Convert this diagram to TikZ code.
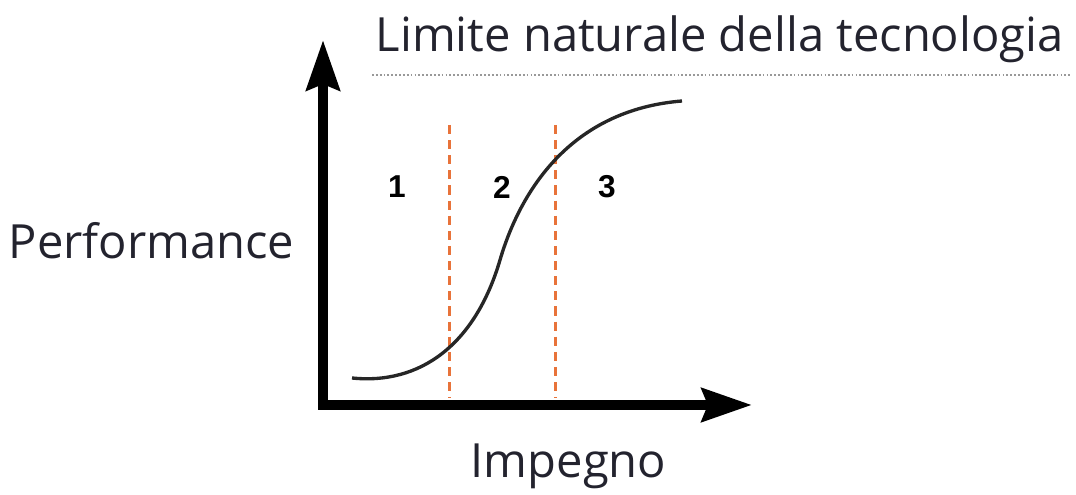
\documentclass[tikz,border=0pt]{standalone}
\usepackage{fontspec}
\setmainfont{Open Sans}
\newfontfamily\numfont{Liberation Sans}
\usetikzlibrary{arrows.meta,positioning,calc}
\definecolor{faseorange}{HTML}{E8733A}
\definecolor{textodark}{HTML}{23232E}
\tikzset{
    axis/.style={
        line width=1mm,            % ejes gruesos
        line join=miter,           % esquina recta en el origen
        {Stealth[length=5mm,width=3.3mm,inset=0.6mm]}-{Stealth[length=5mm,width=3.3mm,inset=0.6mm]}
    },
    scurve/.style={
        line width=0.95pt,         % curva de rendimiento
        black!85
    },
    fase/.style={
        faseorange,
        line width=0.85pt,
        dash pattern=on 2.6pt off 1.7pt
    },
    limite/.style={
        black!40,
        line width=0.7pt,
        dash pattern=on 0.5pt off 0.6pt
    },
    etiqueta/.style={
        inner sep=0pt,
        text=textodark,
        font=\fontsize{13.4}{16}\selectfont
    },
    numero/.style={
        inner sep=0pt,
        font=\numfont\bfseries\fontsize{9}{11}\selectfont
    }
}
\begin{document}
\begin{tikzpicture}[x=0.01cm,y=-0.01cm]
    \useasboundingbox (0,0) rectangle (1076,495);
    % ejes
    \coordinate (origin) at (323,405);
    \coordinate (ytip) at (323,40);
    \coordinate (xtip) at (752,405);
    \draw[axis] (ytip) -- (origin) -- (xtip);

    % textos
    \node[etiqueta, anchor=base west] (title) at (375,52) {Limite naturale della tecnologia};
    \node[etiqueta, anchor=base west] (perf) at (8,259) {Performance};
    \node[etiqueta, anchor=base west] (impegno) at (470,478) {Impegno};
    \coordinate (lim1) at (372,75);
    \coordinate (lim2) at (1072,75);
    \draw[limite] (lim1) -- (lim2);

    % fases
    \coordinate (d1top) at (449,125);
    \coordinate (d1bot) at (449,398);
    \coordinate (d2top) at (555,125);
    \coordinate (d2bot) at (555,398);
    \draw[fase] (d1top) -- (d1bot);
    \draw[fase] (d2top) -- (d2bot);
    \node[numero] (n1) at (397,187) {1};
    \node[numero] (n2) at (502,187) {2};
    \node[numero] (n3) at (607,187) {3};

    % curva S
    \draw[scurve] (352,378) .. controls (420,385) and (475,345) .. (500,260)
        .. controls (520,192) and (570,110) .. (682,101);
\end{tikzpicture}
\end{document}
